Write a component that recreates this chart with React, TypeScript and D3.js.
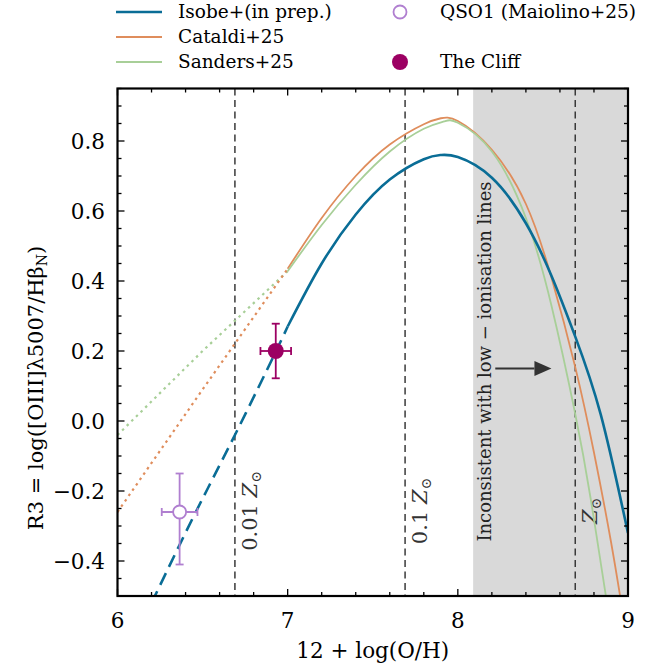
import React from "react";
import * as d3 from "d3";

// R3 calibrations versus metallicity
const isobeSolidX = [7.0, 7.2, 7.4, 7.6, 7.8, 7.9, 8.0, 8.2, 8.4, 8.55, 8.69, 8.84, 9.0];
const isobeSolidY = [0.27, 0.45, 0.59, 0.69, 0.748, 0.76, 0.754, 0.695, 0.565, 0.415, 0.241, 0.018, -0.32];
const isobeDashX = [6.2, 6.45, 6.69, 6.93, 7.0];
const isobeDashY = [-0.52, -0.27, -0.04, 0.198, 0.27];

const cataldiSolidX = [7.0, 7.2, 7.4, 7.6, 7.8, 7.9, 8.0, 8.2, 8.4, 8.55, 8.69, 8.8, 8.9, 8.97];
const cataldiSolidY = [0.435, 0.58, 0.7, 0.79, 0.848, 0.865, 0.857, 0.775, 0.62, 0.41, 0.154, -0.09, -0.345, -0.55];
const cataldiDotX = [6.0, 6.5, 7.0];
const cataldiDotY = [-0.26, 0.09, 0.435];

const sandersSolidX = [7.0, 7.2, 7.4, 7.6, 7.8, 7.92, 8.0, 8.2, 8.4, 8.55, 8.69, 8.78, 8.87, 8.89];
const sandersSolidY = [0.428, 0.56, 0.675, 0.77, 0.835, 0.856, 0.852, 0.77, 0.58, 0.33, 0.02, -0.22, -0.5, -0.56];
const sandersDotX = [6.0, 6.5, 7.0];
const sandersDotY = [-0.04, 0.2, 0.428];

// Observed objects
const qsoX = 6.365, qsoY = -0.26, qsoXErr = 0.105, qsoYErrLo = 0.15, qsoYErrHi = 0.11;
const cliffX = 6.93, cliffY = 0.2, cliffXErr = 0.09, cliffYErr = 0.078;

// Reference metallicities
const zLinesX = [6.69, 7.69, 8.69];
const zLabels = ["0.01 ", "0.1 ", ""];
const shadeFrom = 8.09;

const xTicks = [6, 7, 8, 9];
const yTicks = [-0.4, -0.2, 0.0, 0.2, 0.4, 0.6, 0.8];

const C_ISOBE = "#0a6d96";
const C_CATALDI = "#df8d5c";
const C_SANDERS = "#a8cf98";
const C_QSO = "#b07fd0";
const C_CLIFF = "#9c0063";
const FONT = "'DejaVu Serif', serif";

const W = 654, H = 667;
const L = 117.5, R = 628, T = 88.5, B = 596;

export default function App() {
  const x = d3.scaleLinear().domain([6, 9]).range([L, R]);
  const y = d3.scaleLinear().domain([-0.5, 0.95]).range([B, T]);

  const line = (xs: number[], ys: number[], curve: d3.CurveFactory) =>
    d3.line<number>().x((d) => x(xs[d])).y((d) => y(ys[d])).curve(curve)(xs.map((_, i) => i)) || "";

  const xMinor = d3.range(6, 9.001, 0.2);
  const yMinor = d3.range(-0.5, 0.951, 0.05);

  const fmt = (v: number) => (v < 0 ? "\u2212" : "") + Math.abs(v).toFixed(1);

  return (
    <svg width={W} height={H} style={{ position: "absolute", left: 0, top: 0, background: "#fff" }} fontFamily={FONT}>
      <defs>
        <clipPath id="plotclip">
          <rect x={L} y={T} width={R - L} height={B - T} />
        </clipPath>
      </defs>

      {/* shaded region */}
      <rect x={x(shadeFrom)} y={T} width={R - x(shadeFrom)} height={B - T} fill="#d9d9d9" />

      {/* reference metallicity lines */}
      {zLinesX.map((v, i) => (
        <g key={i}>
          <line x1={x(v)} x2={x(v)} y1={T} y2={B} stroke="#3a3a3a" strokeWidth={1.5} strokeDasharray="7,4.5" />
          <text transform={`translate(${x(v) + 22},${y(-0.257)}) rotate(-90)`} textAnchor="middle" fontSize={21} fill="#333">
            {zLabels[i]}
            <tspan fontStyle="italic">Z</tspan>
            <tspan fontSize={14} dy={4}>{"\u2299"}</tspan>
          </text>
        </g>
      ))}

      <g clipPath="url(#plotclip)" fill="none">
        <path d={line(sandersDotX, sandersDotY, d3.curveLinear)} stroke={C_SANDERS} strokeWidth={2.2} strokeDasharray="2.5,4" />
        <path d={line(cataldiDotX, cataldiDotY, d3.curveLinear)} stroke={C_CATALDI} strokeWidth={2.2} strokeDasharray="2.5,4" />
        <path d={line(isobeDashX, isobeDashY, d3.curveNatural)} stroke={C_ISOBE} strokeWidth={2.6} strokeDasharray="13,7" />
        <path d={line(cataldiSolidX, cataldiSolidY, d3.curveNatural)} stroke={C_CATALDI} strokeWidth={1.8} />
        <path d={line(sandersSolidX, sandersSolidY, d3.curveNatural)} stroke={C_SANDERS} strokeWidth={1.8} />
        <path d={line(isobeSolidX, isobeSolidY, d3.curveNatural)} stroke={C_ISOBE} strokeWidth={2.6} />
      </g>

      {/* annotation */}
      <text transform={`translate(491,${y(0.17)}) rotate(-90)`} textAnchor="middle" fontSize={18} fill="#222">
        Inconsistent with low {"\u2212"} ionisation lines
      </text>
      <line x1={x(8.22)} x2={x(8.45)} y1={y(0.15)} y2={y(0.15)} stroke="#333" strokeWidth={2} />
      <polygon
        points={`${x(8.55)},${y(0.15)} ${x(8.55) - 17},${y(0.15) - 7.5} ${x(8.55) - 17},${y(0.15) + 7.5}`}
        fill="#333"
      />

      {/* QSO1 */}
      <g stroke={C_QSO} strokeWidth={1.8}>
        <line x1={x(qsoX - qsoXErr)} x2={x(qsoX + qsoXErr)} y1={y(qsoY)} y2={y(qsoY)} />
        <line x1={x(qsoX)} x2={x(qsoX)} y1={y(qsoY - qsoYErrLo)} y2={y(qsoY + qsoYErrHi)} />
        <line x1={x(qsoX) - 4} x2={x(qsoX) + 4} y1={y(qsoY - qsoYErrLo)} y2={y(qsoY - qsoYErrLo)} />
        <line x1={x(qsoX) - 4} x2={x(qsoX) + 4} y1={y(qsoY + qsoYErrHi)} y2={y(qsoY + qsoYErrHi)} />
        <line x1={x(qsoX - qsoXErr)} x2={x(qsoX - qsoXErr)} y1={y(qsoY) - 4} y2={y(qsoY) + 4} />
        <line x1={x(qsoX + qsoXErr)} x2={x(qsoX + qsoXErr)} y1={y(qsoY) - 4} y2={y(qsoY) + 4} />
        <circle cx={x(qsoX)} cy={y(qsoY)} r={6.5} fill="#fff" />
      </g>

      {/* The Cliff */}
      <g stroke={C_CLIFF} strokeWidth={1.8}>
        <line x1={x(cliffX - cliffXErr)} x2={x(cliffX + cliffXErr)} y1={y(cliffY)} y2={y(cliffY)} />
        <line x1={x(cliffX)} x2={x(cliffX)} y1={y(cliffY - cliffYErr)} y2={y(cliffY + cliffYErr)} />
        <line x1={x(cliffX) - 4} x2={x(cliffX) + 4} y1={y(cliffY - cliffYErr)} y2={y(cliffY - cliffYErr)} />
        <line x1={x(cliffX) - 4} x2={x(cliffX) + 4} y1={y(cliffY + cliffYErr)} y2={y(cliffY + cliffYErr)} />
        <line x1={x(cliffX - cliffXErr)} x2={x(cliffX - cliffXErr)} y1={y(cliffY) - 4} y2={y(cliffY) + 4} />
        <line x1={x(cliffX + cliffXErr)} x2={x(cliffX + cliffXErr)} y1={y(cliffY) - 4} y2={y(cliffY) + 4} />
        <circle cx={x(cliffX)} cy={y(cliffY)} r={8} fill={C_CLIFF} stroke="none" />
      </g>

      {/* ticks */}
      <g stroke="#000" strokeWidth={1.3}>
        {xMinor.map((v, i) => {
          const major = Math.abs(v - Math.round(v)) < 1e-6;
          const len = major ? 7 : 4;
          return (
            <g key={"xm" + i}>
              <line x1={x(v)} x2={x(v)} y1={B} y2={B - len} />
              <line x1={x(v)} x2={x(v)} y1={T} y2={T + len} />
            </g>
          );
        })}
        {yMinor.map((v, i) => {
          const major = Math.abs(v * 5 - Math.round(v * 5)) < 1e-6;
          const len = major ? 7 : 4;
          return (
            <g key={"ym" + i}>
              <line x1={L} x2={L + len} y1={y(v)} y2={y(v)} />
              <line x1={R} x2={R - len} y1={y(v)} y2={y(v)} />
            </g>
          );
        })}
      </g>

      {/* frame */}
      <rect x={L} y={T} width={R - L} height={B - T} fill="none" stroke="#000" strokeWidth={2.2} />

      {/* tick labels */}
      {xTicks.map((v) => (
        <text key={"xt" + v} x={x(v)} y={628} textAnchor="middle" fontSize={21.5}>
          {v}
        </text>
      ))}
      {yTicks.map((v) => (
        <text key={"yt" + v} x={105} y={y(v)} dy="0.36em" textAnchor="end" fontSize={21.5}>
          {fmt(v)}
        </text>
      ))}

      {/* axis labels */}
      <text x={(L + R) / 2} y={658} textAnchor="middle" fontSize={21.5}>
        12 + log(O/H)
      </text>
      <text transform={`translate(43,388) rotate(-90)`} textAnchor="middle" fontSize={21}>
        R3 = log([OIII]λ5007/Hβ
        <tspan fontSize={14} dy={4}>N</tspan>
        <tspan dy={-4}>)</tspan>
      </text>

      {/* legend */}
      <g fontSize={18.5}>
        <line x1={116} x2={162} y1={12} y2={12} stroke={C_ISOBE} strokeWidth={2.6} />
        <text x={178} y={12} dy="0.35em">Isobe+(in prep.)</text>
        <line x1={116} x2={162} y1={37} y2={37} stroke={C_CATALDI} strokeWidth={1.8} />
        <text x={178} y={37} dy="0.35em">Cataldi+25</text>
        <line x1={116} x2={162} y1={62} y2={62} stroke={C_SANDERS} strokeWidth={1.8} />
        <text x={178} y={62} dy="0.35em">Sanders+25</text>
        <circle cx={400} cy={12} r={6.5} fill="#fff" stroke={C_QSO} strokeWidth={1.8} />
        <text x={440} y={12} dy="0.35em">QSO1 (Maiolino+25)</text>
        <circle cx={400} cy={62} r={8} fill={C_CLIFF} />
        <text x={440} y={62} dy="0.35em">The Cliff</text>
      </g>
    </svg>
  );
}
